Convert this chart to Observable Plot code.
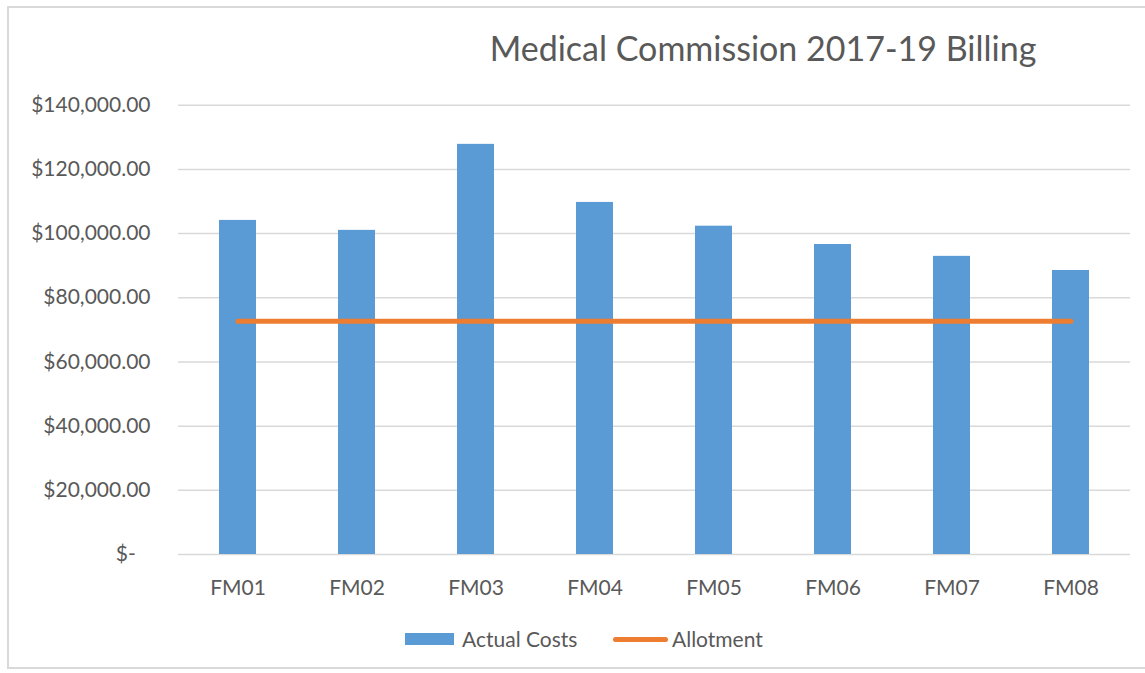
<!DOCTYPE html>
<html>
<head>
<meta charset="utf-8">
<script src="https://cdn.jsdelivr.net/npm/d3@7"></script>
<script src="https://cdn.jsdelivr.net/npm/@observablehq/plot@0.6"></script>
<style>
  html, body { margin: 0; padding: 0; background: #fff; }
  body { width: 1145px; height: 673px; position: relative; overflow: hidden; font-family: Lato, "Open Sans", sans-serif; color: #595959; }
  #frame { position: absolute; left: 7px; top: 6px; width: 1150px; height: 663px; border-left: 2px solid #d9d9d9; border-top: 2px solid #d9d9d9; border-bottom: 2px solid #d9d9d9; box-sizing: border-box; }
  #title { position: absolute; left: 463px; width: 600px; top: 28px; text-align: center; font-size: 34px; line-height: 40px; white-space: nowrap; }
  #chart { position: absolute; left: 0; top: 0; }
  .leg { position: absolute; }
  .legtext { position: absolute; font-size: 21px; line-height: 24px; top: 627px; white-space: nowrap; }
</style>
</head>
<body>
<div id="frame"></div>
<div id="chart"></div>
<div id="title">Medical Commission 2017-19 Billing</div>
<div class="leg" style="left:405px; top:633px; width:49px; height:12px; background:#5B9BD5;"></div>
<div class="legtext" style="left:462px;">Actual Costs</div>
<div class="leg" style="left:613px; top:637px; width:55px; height:5px; border-radius:3px; background:#ED7D31;"></div>
<div class="legtext" style="left:672px;">Allotment</div>
<script>
const months = ["FM01", "FM02", "FM03", "FM04", "FM05", "FM06", "FM07", "FM08"];
const actualCosts = [104100, 101000, 127800, 109700, 102300, 96600, 92900, 88500];
const allotment = [72700, 72700, 72700, 72700, 72700, 72700, 72700, 72700];
const yTicks = [0, 20000, 40000, 60000, 80000, 100000, 120000, 140000];

const data = months.map((m, i) => ({month: m, actual: actualCosts[i], allot: allotment[i]}));

const fmt = v => v === 0 ? "$-\u2007\u2009" : "$" + d3.format(",.2f")(v);

const chart = Plot.plot({
  width: 1145,
  height: 610,
  marginLeft: 178,
  marginRight: 15,
  marginTop: 104.7,
  marginBottom: 56,
  style: { fontFamily: "Lato, 'Open Sans', sans-serif", fontSize: "21px", color: "#595959", background: "transparent", overflow: "visible" },
  x: { domain: months, paddingInner: 0.685, paddingOuter: 0.3425, label: null },
  y: { domain: [0, 140000], label: null },
  marks: [
    Plot.gridY(yTicks, { stroke: "#d9d9d9", strokeOpacity: 1, strokeWidth: 1.5 }),
    Plot.barY(data, { x: "month", y: "actual", fill: "#5B9BD5" }),
    Plot.lineY(data, { x: "month", y: "allot", stroke: "#ED7D31", strokeWidth: 5, strokeLinecap: "round" }),
    Plot.axisY(yTicks, { tickSize: 0, tickPadding: 28, tickFormat: fmt, label: null, fill: "#595959" }),
    Plot.axisX({ tickSize: 0, tickPadding: 26, label: null, fill: "#595959" })
  ]
});
document.getElementById("chart").appendChild(chart);
</script>
</body>
</html>
